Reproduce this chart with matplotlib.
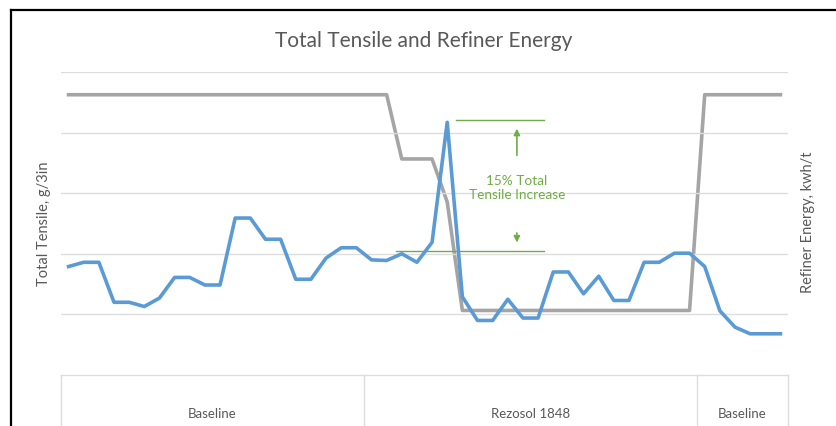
import matplotlib
matplotlib.use("Agg")
import matplotlib.pyplot as plt
from matplotlib.lines import Line2D

plt.rcParams['font.family'] = ['Lato', 'DejaVu Sans']

# data (arbitrary units, tick labels are hidden)
tensile = [17.9, 18.6, 18.6, 12.0, 12.0, 11.3, 12.7, 16.1, 16.1, 14.85,
           14.85, 25.9, 25.9, 22.4, 22.4, 15.8, 15.8, 19.3, 21.0, 21.0,
           19.0, 18.9, 20.0, 18.6, 21.9, 41.7, 12.9, 9.0, 9.0, 12.5,
           9.4, 9.4, 17.0, 17.0, 13.4, 16.3, 12.3, 12.3, 18.6, 18.6,
           20.1, 20.1, 17.9, 10.6, 7.9, 6.8, 6.8, 6.8]
energy = [92.5] * 22 + [71.3] * 3 + [57.1] + [21.3] * 16 + [92.5] * 6
groups = ['Baseline', 'Rezosol 1848', 'Baseline']
group_sizes = [20, 22, 6]
ann_low, ann_high = 20.5, 42.1
ann_text = '15% Total\nTensile Increase'

blue = '#5B9BD5'
gray = '#A5A5A5'
green = '#70AD47'
grid = '#DDDDDD'
txt = '#595959'

fig = plt.figure(figsize=(8.36, 4.27), dpi=100)
W, H = 836, 427
ax = fig.add_axes([61 / W, 1 - 376 / H, (788 - 61) / W, (376 - 73) / H])
ax2 = ax.twinx()

x = list(range(len(tensile)))
ax.set_xlim(-0.5, len(tensile) - 0.5)
ax.set_ylim(0, 50)
ax2.set_ylim(0, 100)
ax.set_yticks([10, 20, 30, 40, 50])
ax.yaxis.grid(True, color=grid, lw=1)
ax.set_yticklabels([])
ax2.set_yticks([])
ax.tick_params(length=0)
ax.set_xticks([])
for a in (ax, ax2):
    for s in a.spines.values():
        s.set_visible(False)
ax.axhline(0, color=grid, lw=1, clip_on=False)

ax2.plot(x, energy, color=gray, lw=2.6, zorder=2)
ax.set_zorder(ax2.get_zorder() + 1)
ax.patch.set_visible(False)
ax.plot(x, tensile, color=blue, lw=2.6, zorder=3)

# annotation
ax.plot([25.6, 31.4], [ann_high, ann_high], color=green, lw=1)
ax.plot([21.6, 31.4], [ann_low, ann_low], color=green, lw=1)
ax.annotate('', xy=(29.6, ann_high - 1), xytext=(29.6, ann_high - 6.3),
            arrowprops=dict(arrowstyle='-|>', color=green, lw=1.2,
                            mutation_scale=9))
ax.annotate('', xy=(29.6, ann_low + 0.9), xytext=(29.6, ann_low + 3.4),
            arrowprops=dict(arrowstyle='-|>', color=green, lw=1.2,
                            mutation_scale=9))
ax.text(29.6, 31.0, ann_text, color=green, fontsize=9.8, ha='center',
        va='center', linespacing=1.15)

# category groups under the axis
tr = ax.get_xaxis_transform()
edges = [-0.5]
for n in group_sizes:
    edges.append(edges[-1] + n)
for e in edges:
    ax.plot([e, e], [0, -51 / 303], color=grid, lw=1, transform=tr,
            clip_on=False)
for i, g in enumerate(groups):
    ax.text((edges[i] + edges[i + 1]) / 2, -38 / 303, g, transform=tr,
            ha='center', va='center', fontsize=9.5, color=txt)

fig.text(424 / W, 1 - 41 / H, 'Total Tensile and Refiner Energy',
         ha='center', va='center', fontsize=15, color=txt)
fig.text(44 / W, 1 - 224 / H, 'Total Tensile, g/3in', rotation=90,
         ha='center', va='center', fontsize=10.5, color=txt)
fig.text(808 / W, 1 - 222 / H, 'Refiner Energy, kwh/t', rotation=90,
         ha='center', va='center', fontsize=10.5, color=txt)

# black frame around the screenshot
fig.add_artist(Line2D([11 / W, 1], [1 - 11 / H, 1 - 11 / H], color='black',
                      lw=1.6))
fig.add_artist(Line2D([11 / W, 11 / W], [0, 1 - 11 / H], color='black',
                      lw=1.6))

fig.savefig('out.png', dpi=100)
